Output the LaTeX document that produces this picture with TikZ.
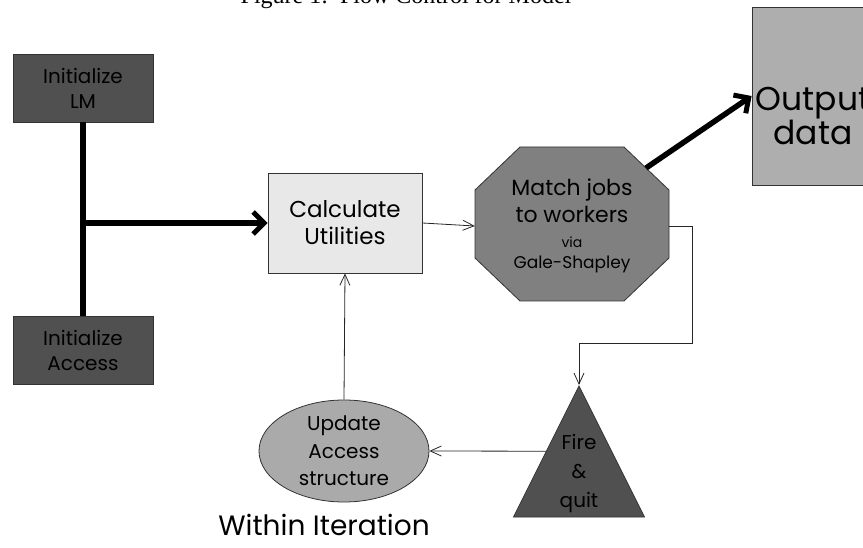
\documentclass[tikz,border=0pt]{standalone}
\usepackage{fontspec}
\setmainfont{Poppins}
\newfontfamily\captionfont{Liberation Serif}
\usetikzlibrary{arrows.meta,shapes.geometric}
\definecolor{initgray}{HTML}{505050}
\definecolor{calcgray}{HTML}{E8E8E8}
\definecolor{matchgray}{HTML}{808080}
\definecolor{outgray}{HTML}{AEAEAE}
\definecolor{updgray}{HTML}{AAAAAA}
\begin{document}
\begin{tikzpicture}[x=1pt,y=-1pt,
  box/.style={draw=black!80,line width=0.8pt,align=center,inner sep=0pt},
  initbox/.style={box,fill=initgray,minimum width=140pt,minimum height=68pt,
    font=\fontsize{20}{25}\selectfont},
  thin/.style={draw=black!85,line width=0.8pt,-{Straight Barb[length=11pt,width=10pt]}},
  heavy/.style={line width=5.5pt},
  heavyarrow/.style={heavy,-{Straight Barb[length=11pt,width=22pt,line width=5pt]}}]
\useasboundingbox (0,0) rectangle (863,548);

\node[font=\captionfont\fontsize{24}{28}\selectfont,anchor=base] (caption) at (406,4)
  {Figure 1:\ \ Flow Control for Model};

\node[initbox] (lm) at (83,88) {Initialize\\LM};
\node[initbox] (access) at (83,350) {Initialize\\Access};
\node[box,fill=calcgray,minimum width=154pt,minimum height=100pt,
  font=\fontsize{23}{27}\selectfont] (calc) at (345,223) {Calculate\\Utilities};

% octagon
\filldraw[fill=matchgray,draw=black!80,line width=0.8pt]
  (520,147) -- (624,147) -- (669,190) -- (669,258) -- (624,301)
  -- (520,301) -- (475,258) -- (475,190) -- cycle;
\node[align=center,inner sep=0pt,minimum width=194pt,minimum height=155pt,
  font=\fontsize{22}{27}\selectfont] (match) at (572,226)
  {Match jobs\\to workers\\[-2pt]{\fontsize{14}{17}\selectfont via}\\[-6pt]
   {\fontsize{17}{21}\selectfont Gale-Shapley}};
\coordinate (matchcorner) at (646,168);

\node[box,fill=outgray,minimum width=122pt,minimum height=178pt,
  label={[yshift=-20pt,align=center,inner sep=0pt,font=\fontsize{33}{32}\selectfont]center:Output\\data}]
  (output) at (813,96) {};

\node[box,isosceles triangle,isosceles triangle stretches,shape border rotate=90,
  fill=initgray,minimum width=131pt,minimum height=131pt,anchor=apex,
  font=\fontsize{20}{29}\selectfont] (fire) at (579,385) {Fire\\\&\\quit};

\node[box,ellipse,fill=updgray,minimum width=170pt,minimum height=102pt,
  font=\fontsize{20}{27.5}\selectfont] (update) at (344,451) {Update\\Access\\structure};

\node[font=\fontsize{28}{32}\selectfont] (within) at (324,525) {Within Iteration};

\coordinate (bend) at (692,343);

\draw[heavy] (lm.south) -- (access.north);
\draw[heavyarrow] (lm.south |- calc.west) -- (calc.west);
\draw[thin] (calc.east) -- (match.west);
\draw[heavyarrow] (matchcorner) -- (output.west);
\draw[thin] (match.east) -| (bend) -| (fire.apex);
\draw[thin] (fire.left side) -- (update.east);
\draw[thin] (update.north) -- (calc.south);
\end{tikzpicture}
\end{document}
